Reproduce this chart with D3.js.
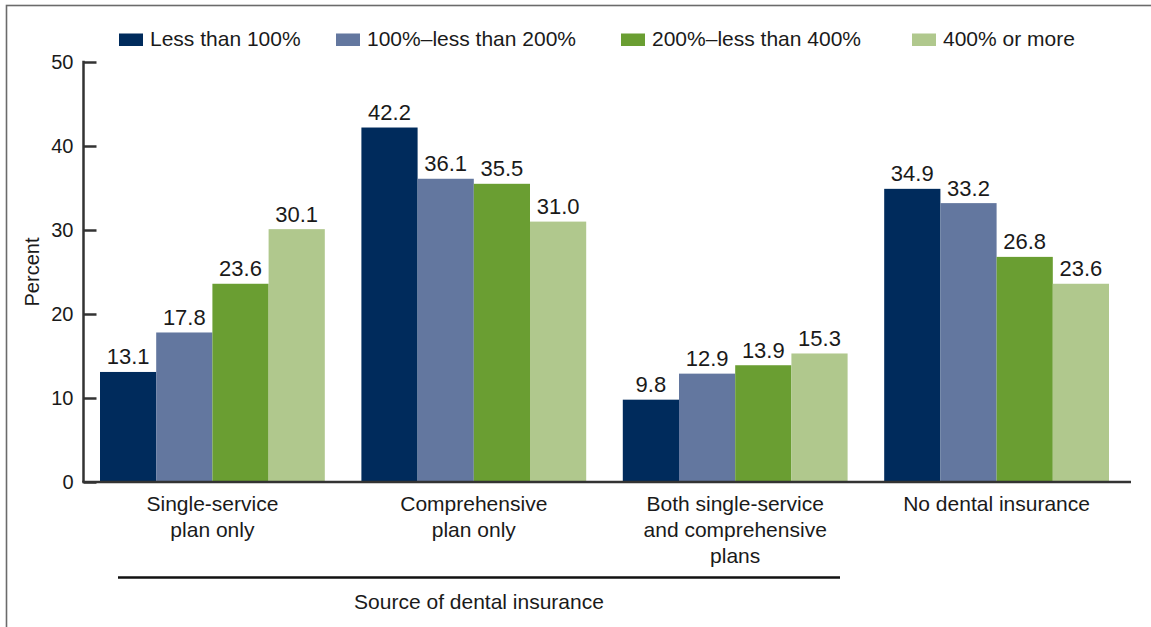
<!DOCTYPE html>
<html>
<head>
<meta charset="utf-8">
<script src="https://cdn.jsdelivr.net/npm/d3@7"></script>
<style>
  html, body { margin: 0; padding: 0; background: #fff; }
  svg { display: block; font-family: "Liberation Sans", Arial, sans-serif; }
</style>
</head>
<body>
<svg id="chart" width="1151" height="627"></svg>
<script>
const categories = [
  ["Single-service", "plan only"],
  ["Comprehensive", "plan only"],
  ["Both single-service", "and comprehensive", "plans"],
  ["No dental insurance"]
];
const categoryKeys = ["single", "comprehensive", "both", "none"];
const seriesNames = ["Less than 100%", "100%\u2013less than 200%", "200%\u2013less than 400%", "400% or more"];
const seriesColors = ["#002b5c", "#63779f", "#6a9e32", "#b0c88d"];
const lessThan100 = [13.1, 42.2, 9.8, 34.9];
const from100to200 = [17.8, 36.1, 12.9, 33.2];
const from200to400 = [23.6, 35.5, 13.9, 26.8];
const over400 = [30.1, 31.0, 15.3, 23.6];
const yTicks = [0, 10, 20, 30, 40, 50];
const yTitle = "Percent";
const xTitle = "Source of dental insurance";

const seriesValues = [lessThan100, from100to200, from200to400, over400];

const svg = d3.select("#chart");
const textColor = "#1a1a1a";

// frame
svg.append("rect")
  .attr("x", 6.5).attr("y", 5.5)
  .attr("width", 1300).attr("height", 800)
  .attr("fill", "none").attr("stroke", "#6b6b6b").attr("stroke-width", 1.6);

const y = d3.scaleLinear().domain([0, 50]).range([482, 62]);
const x0 = d3.scaleBand().domain(categoryKeys).range([100, 1109]).paddingInner(0.14).paddingOuter(0);
const x1 = d3.scaleBand().domain(d3.range(seriesNames.length)).range([0, x0.bandwidth()]).padding(0);

// bars
const groups = svg.append("g").selectAll("g")
  .data(categoryKeys)
  .join("g")
  .attr("transform", d => `translate(${x0(d)},0)`);

groups.each(function(key, ci) {
  const g = d3.select(this);
  const vals = seriesValues.map(s => s[ci]);
  g.selectAll("rect")
    .data(vals)
    .join("rect")
    .attr("x", (d, i) => x1(i))
    .attr("y", d => y(d))
    .attr("width", x1.bandwidth())
    .attr("height", d => y(0) - y(d))
    .attr("fill", (d, i) => seriesColors[i]);
  g.selectAll("text")
    .data(vals)
    .join("text")
    .attr("x", (d, i) => x1(i) + x1.bandwidth() / 2)
    .attr("y", d => y(d) - 7.5)
    .attr("text-anchor", "middle")
    .attr("font-size", 22)
    .attr("fill", textColor)
    .text(d => d.toFixed(1));
});

// y axis
const yAxis = svg.append("g")
  .attr("transform", "translate(83.5,0)")
  .call(d3.axisLeft(y).tickValues(yTicks).tickSize(-13).tickPadding(10).tickFormat(d3.format("d")));
yAxis.select(".domain").remove();
yAxis.selectAll(".tick line").attr("stroke", "#333").attr("stroke-width", 2.5);
yAxis.selectAll(".tick text")
  .attr("font-size", 20)
  .attr("font-family", "Liberation Sans, Arial, sans-serif")
  .attr("fill", textColor);
svg.append("line")
  .attr("x1", 83.5).attr("x2", 83.5)
  .attr("y1", y(50) - 1.25).attr("y2", y(0))
  .attr("stroke", "#333").attr("stroke-width", 2.5);

// x baseline
svg.append("line")
  .attr("x1", 82.25).attr("x2", 1131)
  .attr("y1", y(0)).attr("y2", y(0))
  .attr("stroke", "#333").attr("stroke-width", 2.5);

// y title
svg.append("text")
  .attr("transform", `translate(39,${(y(0) + y(50)) / 2}) rotate(-90)`)
  .attr("text-anchor", "middle")
  .attr("font-size", 20)
  .attr("fill", textColor)
  .text(yTitle);

// category labels
categoryKeys.forEach((key, ci) => {
  const t = svg.append("text")
    .attr("x", x0(key) + x0.bandwidth() / 2)
    .attr("y", 511)
    .attr("text-anchor", "middle")
    .attr("font-size", 21)
    .attr("fill", textColor);
  categories[ci].forEach((line, li) => {
    t.append("tspan")
      .attr("x", x0(key) + x0.bandwidth() / 2)
      .attr("dy", li === 0 ? 0 : 26)
      .text(line);
  });
});

// bracket for source of dental insurance (first three categories)
const bx1 = 118, bx2 = 840;
svg.append("line")
  .attr("x1", bx1).attr("x2", bx2)
  .attr("y1", 577.5).attr("y2", 577.5)
  .attr("stroke", "#111").attr("stroke-width", 2.6);
svg.append("text")
  .attr("x", (bx1 + bx2) / 2)
  .attr("y", 609)
  .attr("text-anchor", "middle")
  .attr("font-size", 21)
  .attr("fill", textColor)
  .text(xTitle);

// legend
const legendX = [119, 336, 621, 912];
const legend = svg.append("g").selectAll("g")
  .data(seriesNames)
  .join("g")
  .attr("transform", (d, i) => `translate(${legendX[i]},0)`);
legend.append("rect")
  .attr("x", 0).attr("y", 33.5)
  .attr("width", 24).attr("height", 12.5)
  .attr("fill", (d, i) => seriesColors[i]);
legend.append("text")
  .attr("x", 31).attr("y", 46)
  .attr("font-size", 21)
  .attr("fill", textColor)
  .text(d => d);
</script>
</body>
</html>
